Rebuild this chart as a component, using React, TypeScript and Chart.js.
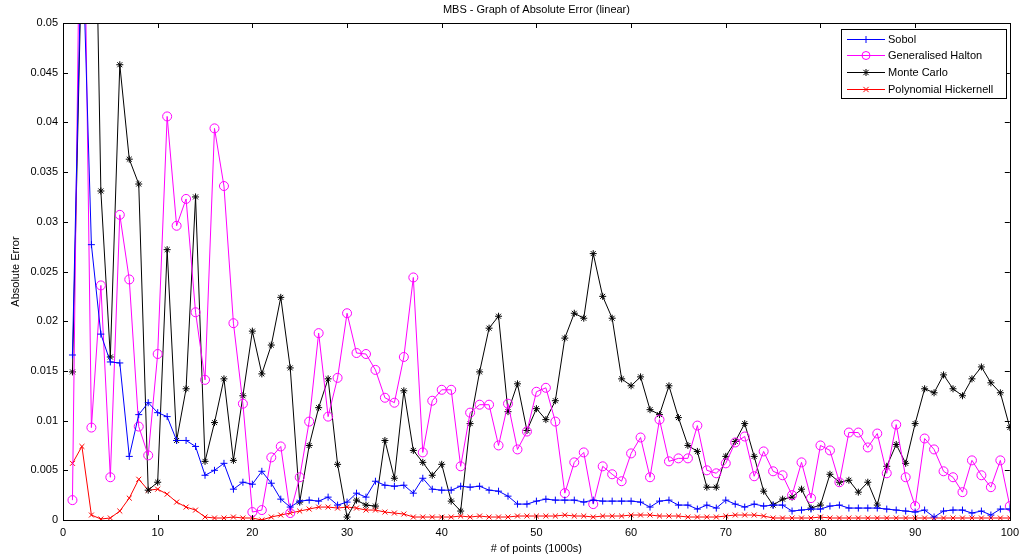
import React, { useEffect, useRef } from "react";
import { Chart, registerables } from "chart.js";

Chart.register(...registerables);

const points: number[] = [
  1, 2, 3, 4, 5, 6, 7, 8, 9, 10, 11, 12, 13, 14, 15, 16, 17, 18, 19, 20,
  21, 22, 23, 24, 25, 26, 27, 28, 29, 30, 31, 32, 33, 34, 35, 36, 37, 38, 39, 40,
  41, 42, 43, 44, 45, 46, 47, 48, 49, 50, 51, 52, 53, 54, 55, 56, 57, 58, 59, 60,
  61, 62, 63, 64, 65, 66, 67, 68, 69, 70, 71, 72, 73, 74, 75, 76, 77, 78, 79, 80,
  81, 82, 83, 84, 85, 86, 87, 88, 89, 90, 91, 92, 93, 94, 95, 96, 97, 98, 99, 100,
];

const sobol: number[] = [
  0.0166, 0.06, 0.0277, 0.0187, 0.0159, 0.0158, 0.0064, 0.0106, 0.0118, 0.0108,
  0.0104, 0.008, 0.008, 0.0074, 0.0045, 0.005, 0.0057, 0.0031, 0.0038, 0.0036,
  0.0049, 0.0037, 0.0021, 0.0013, 0.0019, 0.002, 0.0019, 0.0023, 0.0015, 0.0018,
  0.0027, 0.0023, 0.0039, 0.0035, 0.0034, 0.0035, 0.0027, 0.0042, 0.0031, 0.003,
  0.003, 0.0034, 0.0033, 0.0034, 0.003, 0.0029, 0.0024, 0.0016, 0.0016, 0.0019,
  0.0021, 0.002, 0.002, 0.002, 0.0018, 0.002, 0.0019, 0.0019, 0.0019, 0.0019,
  0.0018, 0.0013, 0.0019, 0.002, 0.0015, 0.0015, 0.0011, 0.0015, 0.0012, 0.002,
  0.0016, 0.0013, 0.0016, 0.0014, 0.0015, 0.0015, 0.0009, 0.001, 0.0011, 0.0011,
  0.0014, 0.0015, 0.0012, 0.0012, 0.0012, 0.0012, 0.0011, 0.001, 0.0009, 0.0008,
  0.001, 0.0003, 0.0009, 0.001, 0.001, 0.0007, 0.0009, 0.0005, 0.0011, 0.0011,
];

const halton: number[] = [
  0.002, 0.08, 0.0093, 0.0236, 0.0043, 0.0307, 0.0242, 0.0094, 0.0065, 0.0167,
  0.0406, 0.0296, 0.0323, 0.0209, 0.0141, 0.0394, 0.0336, 0.0198, 0.0117, 0.0008,
  0.001, 0.0063, 0.0074, 0.0007, 0.0043, 0.0099, 0.0188, 0.0104, 0.0143, 0.0208,
  0.0168, 0.0167, 0.0151, 0.0123, 0.0118, 0.0164, 0.0244, 0.0068, 0.012, 0.0131,
  0.0131, 0.0054, 0.0108, 0.0116, 0.0116, 0.0075, 0.0117, 0.0071, 0.0089, 0.0129,
  0.0133, 0.0099, 0.0027, 0.0058, 0.0068, 0.0016, 0.0054, 0.0046, 0.0039, 0.0067,
  0.0083, 0.0043, 0.0101, 0.0059, 0.0062, 0.0062, 0.0095, 0.005, 0.0047, 0.0057,
  0.0078, 0.0084, 0.0044, 0.0069, 0.0049, 0.0045, 0.0025, 0.0058, 0.0022, 0.0075,
  0.007, 0.0038, 0.0088, 0.0088, 0.0073, 0.0087, 0.0047, 0.0096, 0.0043, 0.0014,
  0.0082, 0.0071, 0.0049, 0.0043, 0.0028, 0.006, 0.0045, 0.0033, 0.006, 0.0014,
];

const monteCarlo: number[] = [
  0.0149, 0.058, 0.087, 0.0331, 0.0164, 0.0458, 0.0363, 0.0338, 0.003, 0.0038,
  0.0272, 0.008, 0.0132, 0.0325, 0.0059, 0.0098, 0.0142, 0.006, 0.0125, 0.019,
  0.0147, 0.0176, 0.0224, 0.0153, 0.0018, 0.0075, 0.0113, 0.0142, 0.0056, 0.0003,
  0.002, 0.0015, 0.0014, 0.008, 0.0042, 0.013, 0.007, 0.0058, 0.0045, 0.0056,
  0.0019, 0.0009, 0.0097, 0.0149, 0.0193, 0.0205, 0.0109, 0.0137, 0.009, 0.0112,
  0.0101, 0.012, 0.0183, 0.0208, 0.0203, 0.0268, 0.0225, 0.0203, 0.0142, 0.0135,
  0.0144, 0.0111, 0.0106, 0.0135, 0.0103, 0.0075, 0.0069, 0.0033, 0.0033, 0.0064,
  0.0079, 0.0097, 0.0064, 0.0029, 0.0015, 0.0021, 0.0023, 0.0031, 0.0012, 0.0015,
  0.0046, 0.0038, 0.004, 0.0028, 0.0038, 0.0015, 0.0054, 0.0076, 0.0057, 0.0097,
  0.0132, 0.0128, 0.0146, 0.0132, 0.0125, 0.0142, 0.0154, 0.0138, 0.0128, 0.0093,
];

const hickernell: number[] = [
  0.0057, 0.0074, 0.0005, 0.0001, 0.0002, 0.0009, 0.0022, 0.0041, 0.003, 0.0031,
  0.0026, 0.0018, 0.0013, 0.001, 0.0003, 0.0002, 0.0002, 0.0003, 0.0002, 0.0002,
  0.0, 0.0003, 0.0005, 0.0007, 0.0009, 0.0011, 0.0013, 0.0013, 0.0012, 0.0013,
  0.0012, 0.001, 0.001, 0.0008, 0.0007, 0.0006, 0.0003, 0.0003, 0.0003, 0.0003,
  0.0003, 0.0004, 0.0003, 0.0004, 0.0003, 0.0003, 0.0003, 0.0004, 0.0004, 0.0004,
  0.0004, 0.0004, 0.0005, 0.0004, 0.0004, 0.0003, 0.0004, 0.0004, 0.0004, 0.0005,
  0.0005, 0.0005, 0.0004, 0.0004, 0.0004, 0.0003, 0.0003, 0.0003, 0.0003, 0.0004,
  0.0005, 0.0005, 0.0005, 0.0004, 0.0002, 0.0002, 0.0002, 0.0002, 0.0002, 0.0003,
  0.0002, 0.0002, 0.0002, 0.0002, 0.0002, 0.0002, 0.0002, 0.0002, 0.0002, 0.0002,
  0.0002, 0.0002, 0.0002, 0.0002, 0.0002, 0.0002, 0.0002, 0.0002, 0.0002, 0.0002,
];

const xTicks: number[] = [0, 10, 20, 30, 40, 50, 60, 70, 80, 90, 100];
const yTicks: number[] = [0, 0.005, 0.01, 0.015, 0.02, 0.025, 0.03, 0.035, 0.04, 0.045, 0.05];
const seriesNames: string[] = ["Sobol", "Generalised Halton", "Monte Carlo", "Polynomial Hickernell"];
const seriesColors: string[] = ["#0000ff", "#ff00ff", "#000000", "#ff0000"];
const seriesMarkers: string[] = ["cross", "circle", "star", "crossRot"];
const titleText = "MBS - Graph of Absolute Error (linear)";
const xLabel = "# of points (1000s)";
const yLabel = "Absolute Error";

const FONT = "'Liberation Sans', Arial, sans-serif";

function drawMarker(ctx: CanvasRenderingContext2D, style: string, x: number, y: number, r: number) {
  ctx.beginPath();
  if (style === "circle") {
    ctx.arc(x, y, r, 0, Math.PI * 2);
  } else if (style === "cross") {
    ctx.moveTo(x - r, y); ctx.lineTo(x + r, y);
    ctx.moveTo(x, y - r); ctx.lineTo(x, y + r);
  } else if (style === "crossRot") {
    const d = r * 0.75;
    ctx.moveTo(x - d, y - d); ctx.lineTo(x + d, y + d);
    ctx.moveTo(x - d, y + d); ctx.lineTo(x + d, y - d);
  } else if (style === "star") {
    const d = r * 0.75;
    ctx.moveTo(x - r, y); ctx.lineTo(x + r, y);
    ctx.moveTo(x, y - r); ctx.lineTo(x, y + r);
    ctx.moveTo(x - d, y - d); ctx.lineTo(x + d, y + d);
    ctx.moveTo(x - d, y + d); ctx.lineTo(x + d, y - d);
  }
  ctx.stroke();
}

const framePlugin = {
  id: "matlabFrame",
  afterDatasetsDraw(chart: any) {
    const { ctx, chartArea, scales } = chart;
    const { left, right, top, bottom } = chartArea;
    const xs = scales.x;
    const ys = scales.y;
    ctx.save();
    ctx.strokeStyle = "#000";
    ctx.lineWidth = 1;
    ctx.strokeRect(Math.round(left) + 0.5, Math.round(top) + 0.5, Math.round(right - left), Math.round(bottom - top));
    const tl = 5;
    ctx.beginPath();
    xTicks.forEach((v) => {
      const px = Math.round(xs.getPixelForValue(v)) + 0.5;
      ctx.moveTo(px, bottom); ctx.lineTo(px, bottom - tl);
      ctx.moveTo(px, top); ctx.lineTo(px, top + tl);
    });
    yTicks.forEach((v) => {
      const py = Math.round(ys.getPixelForValue(v)) + 0.5;
      ctx.moveTo(left, py); ctx.lineTo(left + tl, py);
      ctx.moveTo(right, py); ctx.lineTo(right - tl, py);
    });
    ctx.stroke();

    // Title and axis labels
    ctx.fillStyle = "#000";
    ctx.font = `11px ${FONT}`;
    ctx.textAlign = "center";
    ctx.textBaseline = "middle";
    const cx = (left + right) / 2;
    ctx.fillText(titleText, cx, 10);
    ctx.fillText(xLabel, cx, 549);
    ctx.save();
    ctx.translate(16, (top + bottom) / 2);
    ctx.rotate(-Math.PI / 2);
    ctx.fillText(yLabel, 0, 0);
    ctx.restore();

    // Legend
    const lx = 841, ly = 29, lw = 165, lh = 69;
    ctx.fillStyle = "#fff";
    ctx.fillRect(lx, ly, lw, lh);
    ctx.strokeStyle = "#000";
    ctx.strokeRect(lx + 0.5, ly + 0.5, lw, lh);
    ctx.font = `11px ${FONT}`;
    ctx.textAlign = "left";
    seriesNames.forEach((name, i) => {
      const ry = Math.round(ly + 9.5 + i * 16.7) + 0.5;
      ctx.strokeStyle = seriesColors[i];
      ctx.lineWidth = 1;
      ctx.beginPath();
      ctx.moveTo(847, ry); ctx.lineTo(885, ry);
      ctx.stroke();
      drawMarker(ctx, seriesMarkers[i], 866, ry, i === 1 ? 4 : 3.5);
      ctx.fillStyle = "#000";
      ctx.fillText(name, 888, ry);
    });
    ctx.restore();
  },
};

export default function App() {
  const canvasRef = useRef<HTMLCanvasElement | null>(null);

  useEffect(() => {
    const canvas = canvasRef.current;
    if (!canvas) return;
    const makeData = (vals: number[]) => points.map((p, i) => ({ x: p, y: vals[i] }));
    const allSeries = [sobol, halton, monteCarlo, hickernell];
    const chart = new Chart(canvas, {
      type: "line",
      data: {
        datasets: allSeries.map((vals, i) => ({
          label: seriesNames[i],
          data: makeData(vals),
          borderColor: seriesColors[i],
          backgroundColor: "transparent",
          borderWidth: 1,
          pointStyle: seriesMarkers[i] as any,
          pointRadius: i === 1 ? 4.5 : 3.5,
          pointBorderWidth: 1,
          pointBorderColor: seriesColors[i],
          pointBackgroundColor: "transparent",
          tension: 0,
          clip: 0,
        })),
      },
      options: {
        responsive: false,
        animation: false,
        devicePixelRatio: 1,
        layout: { padding: { left: 0, top: 23, right: 12, bottom: 0 } },
        plugins: {
          legend: { display: false },
          title: { display: false },
          tooltip: { enabled: false },
        },
        scales: {
          x: {
            type: "linear",
            min: 0,
            max: 100,
            afterBuildTicks: (scale: any) => {
              scale.ticks = xTicks.map((v) => ({ value: v }));
            },
            afterFit: (scale: any) => {
              scale.height = 40;
            },
            grid: { display: false, drawTicks: false },
            border: { display: false },
            ticks: {
              color: "#000",
              font: { family: FONT, size: 11 },
              padding: 6,
              maxRotation: 0,
              autoSkip: false,
              callback: (v: any) => String(v),
            },
          },
          y: {
            type: "linear",
            min: 0,
            max: 0.05,
            afterBuildTicks: (scale: any) => {
              scale.ticks = yTicks.map((v) => ({ value: v }));
            },
            afterFit: (scale: any) => {
              scale.width = 63;
            },
            grid: { display: false, drawTicks: false },
            border: { display: false },
            ticks: {
              color: "#000",
              font: { family: FONT, size: 11 },
              padding: 5,
              autoSkip: false,
              callback: (v: any) => String(Number(Number(v).toFixed(4))),
            },
          },
        },
      },
      plugins: [framePlugin],
    });
    return () => chart.destroy();
  }, []);

  return (
    <div style={{ position: "fixed", left: 0, top: 0, width: 1025, height: 560, background: "#fff" }}>
      <canvas ref={canvasRef} width={1025} height={560} style={{ width: 1025, height: 560, display: "block" }} />
    </div>
  );
}
